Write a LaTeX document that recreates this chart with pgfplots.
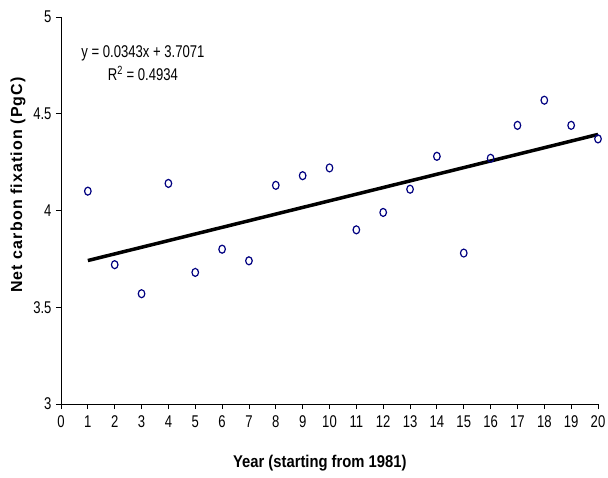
\documentclass[border=0pt]{standalone}
\usepackage{fontspec}
\setmainfont{Liberation Sans}
\newfontfamily\narrowfont[FakeStretch=0.77]{Liberation Sans}
\newfontfamily\labfont[FakeStretch=0.87]{Liberation Sans}
\newfontfamily\spacedfont[LetterSpace=7]{Liberation Sans}
\usepackage{pgfplots}
\pgfplotsset{compat=1.18}
\definecolor{markblue}{HTML}{000080}

\begin{document}
\begin{tikzpicture}[x=1pt,y=1pt]
\useasboundingbox (0,0) rectangle (608,477);
\begin{axis}[
    at={(61pt,73pt)}, anchor=south west,
    scale only axis,
    width=537pt, height=387pt,
    xmin=0, xmax=20, ymin=3, ymax=5,
    axis lines*=left,
    axis line style={black, line width=0.9pt},
    xtick={0,1,...,20},
    ytick={3,3.5,4,4.5,5},
    tick align=outside,
    major tick length=5pt,
    tick style={black, line width=0.9pt},
    /pgf/number format/assume math mode=true,
    ticklabel style={font=\narrowfont\fontsize{17}{17}\selectfont},
    xticklabel style={yshift=-3pt},
    yticklabel style={xshift=-1pt},
    xlabel={Year (starting from 1981)},
    xlabel style={font=\labfont\bfseries\fontsize{17}{17}\selectfont,
        at={(axis description cs:0.482,0)}, anchor=center, yshift=-59pt},
    ylabel={Net carbon fixation (PgC)},
    ylabel style={font=\spacedfont\bfseries\fontsize{16}{16}\selectfont,
        at={(axis description cs:0,0.566)}, anchor=center, yshift=43pt},
    clip=false,
]
% trend line y = 0.0343x + 3.7071
\addplot[black, line width=3.5pt] coordinates {(1,3.7414) (20,4.3931)};
% yearly values
\addplot[only marks, mark=o, color=markblue, mark size=4pt,
    mark options={xscale=0.82, line width=1.2pt}] coordinates {
    (1,4.10) (2,3.72) (3,3.57) (4,4.14) (5,3.68)
    (6,3.80) (7,3.74) (8,4.13) (9,4.18) (10,4.22)
    (11,3.90) (12,3.99) (13,4.11) (14,4.28) (15,3.78)
    (16,4.27) (17,4.44) (18,4.57) (19,4.44) (20,4.37)
};
\node[font=\narrowfont\fontsize{17}{23}\selectfont, align=center]
    at (axis cs:3.05,4.762) {y = 0.0343x + 3.7071\\R\textsuperscript{2} = 0.4934};
\end{axis}
\end{tikzpicture}
\end{document}
